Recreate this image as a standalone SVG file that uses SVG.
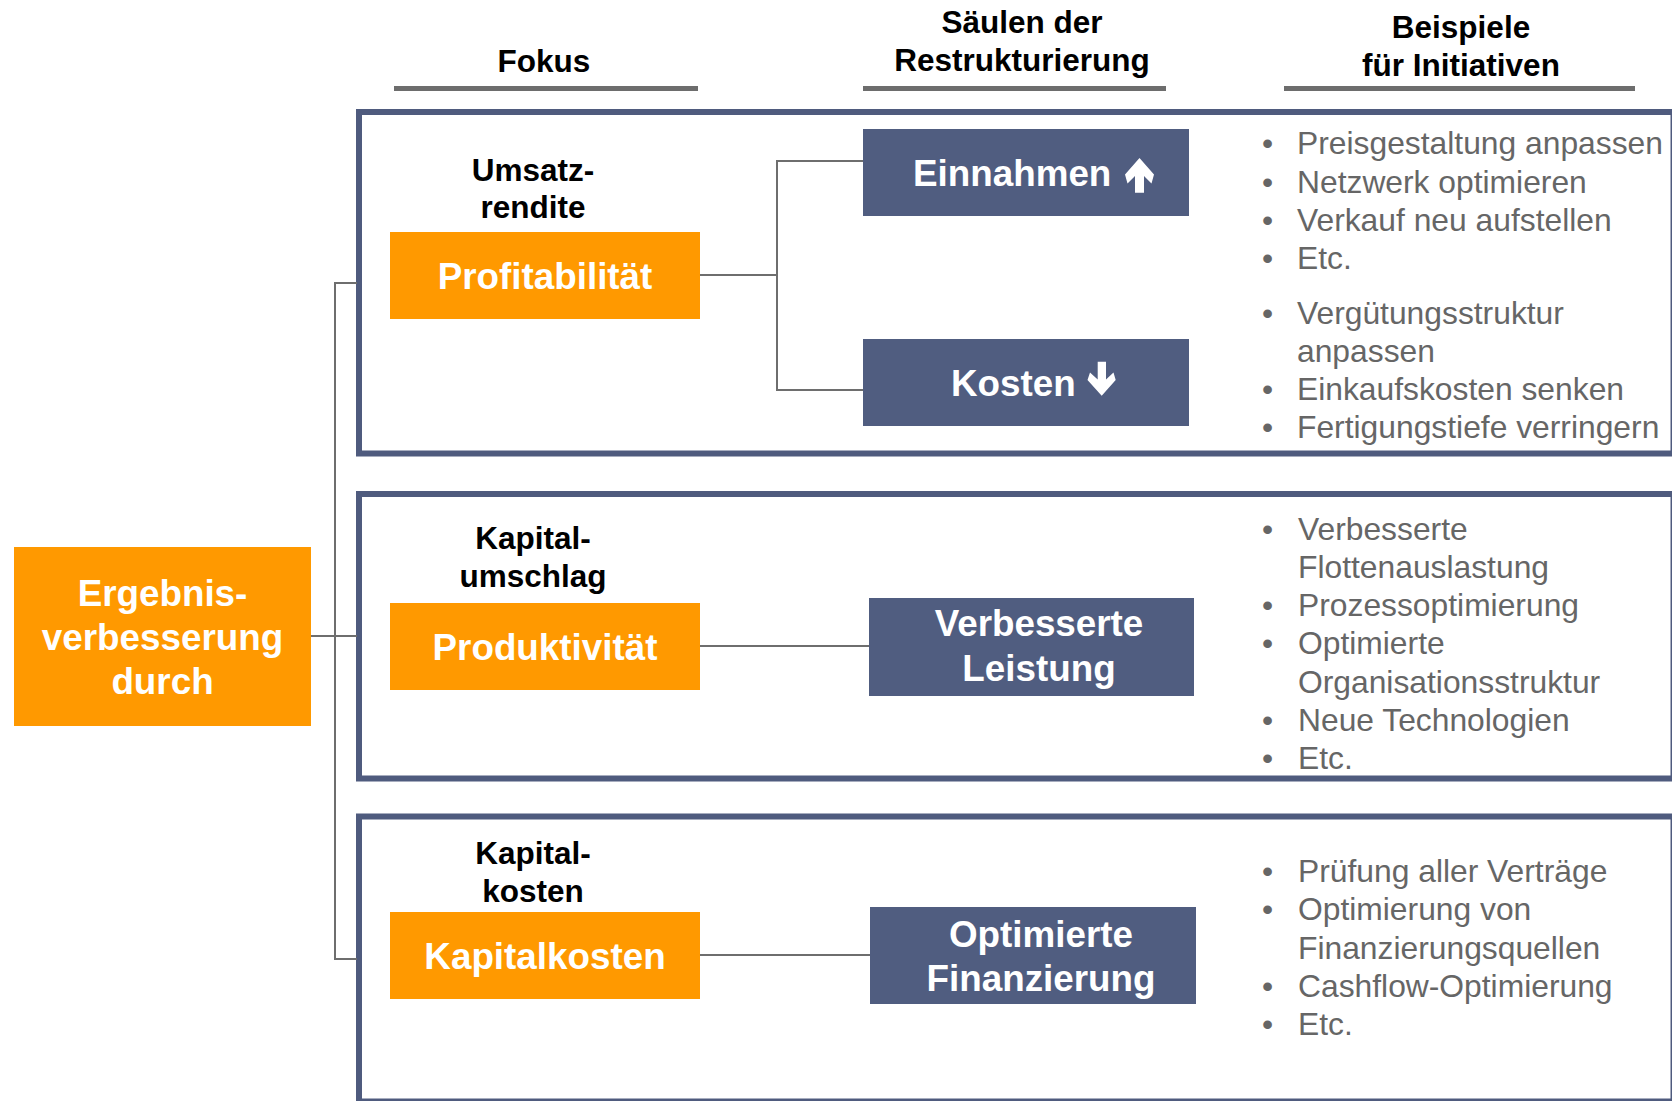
<svg xmlns="http://www.w3.org/2000/svg" width="1672" height="1101" viewBox="0 0 1672 1101">
<style>
text{font-family:"Liberation Sans",Arial,sans-serif}
.hdr{font-size:31.5px;font-weight:bold;fill:#000;text-anchor:middle}
.lbl{font-size:31.5px;font-weight:bold;fill:#000;text-anchor:middle}
.nt{font-size:36.8px;font-weight:bold;fill:#fff;text-anchor:middle}
.nts{font-size:36.8px;font-weight:bold;fill:#fff}
.bl{font-size:31.8px;fill:#666666}
.or{fill:#FF9900}
.bu{fill:#505D80}
.frame{fill:none;stroke:#4F5B7E;stroke-width:6}
.ul{fill:#6D6D6D}
.con{fill:none;stroke:#6E6E6E;stroke-width:2}
</style>
<rect width="1672" height="1101" fill="#fff"/>
<g id="headers">
<rect class="ul" x="394" y="86" width="304" height="5"/>
<rect class="ul" x="863" y="86" width="303" height="5"/>
<rect class="ul" x="1284" y="86" width="351" height="5"/>
<text class="hdr" x="544" y="72">Fokus</text>
<text class="hdr" x="1022" y="33">Säulen der</text>
<text class="hdr" x="1022" y="71">Restrukturierung</text>
<text class="hdr" x="1461" y="38">Beispiele</text>
<text class="hdr" x="1461" y="76">für Initiativen</text>
</g>
<g id="frames">
<rect class="frame" x="359" y="112" width="1314.5" height="341.5"/>
<rect class="frame" x="359" y="494" width="1314.5" height="284.5"/>
<rect class="frame" x="359" y="816.5" width="1314.5" height="285"/>
</g>
<g id="connectors">
<path class="con" d="M311 636H357M357 283H335V959H357"/>
<path class="con" d="M700 275H777M863 161H777V390H863"/>
<path class="con" d="M700 646H869"/>
<path class="con" d="M700 955H870"/>
</g>
<g id="n-ergebnis">
<rect class="or" x="14" y="547" width="297" height="179"/>
<text class="nt" x="162.5" y="606">Ergebnis-</text>
<text class="nt" x="162.5" y="650">verbesserung</text>
<text class="nt" x="162.5" y="694">durch</text>
</g>
<g id="n-profitabilitaet">
<text class="lbl" x="533" y="181">Umsatz-</text>
<text class="lbl" x="533" y="218">rendite</text>
<rect class="or" x="390" y="232" width="310" height="87"/>
<text class="nt" x="545" y="288.5">Profitabilität</text>
</g>
<g id="n-produktivitaet">
<text class="lbl" x="533" y="549">Kapital-</text>
<text class="lbl" x="533" y="587">umschlag</text>
<rect class="or" x="390" y="603" width="310" height="87"/>
<text class="nt" x="545" y="659.5">Produktivität</text>
</g>
<g id="n-kapitalkosten">
<text class="lbl" x="533" y="864">Kapital-</text>
<text class="lbl" x="533" y="902">kosten</text>
<rect class="or" x="390" y="912" width="310" height="87"/>
<text class="nt" x="545" y="968.5">Kapitalkosten</text>
</g>
<g id="n-einnahmen">
<rect class="bu" x="863" y="129" width="326" height="87"/>
<text class="nts" x="913" y="185.5">Einnahmen</text>
<path fill="#fff" d="M1139.5 158L1154 174.5L1151.5 183.5L1144 176V192.7H1135V176L1127.5 183.5L1125 174.5Z"/>
</g>
<g id="n-kosten">
<rect class="bu" x="863" y="339" width="326" height="87"/>
<text class="nts" x="951" y="395.5">Kosten</text>
<path fill="#fff" d="M1101.7 395.7L1115.7 380L1113.5 372.5L1106 379.5V361.7H1097.7V379.5L1090 372.5L1087.5 380Z"/>
</g>
<g id="n-leistung">
<rect class="bu" x="869" y="598" width="325" height="98"/>
<text class="nt" x="1039" y="636">Verbesserte</text>
<text class="nt" x="1039" y="681">Leistung</text>
</g>
<g id="n-finanzierung">
<rect class="bu" x="870" y="907" width="326" height="97"/>
<text class="nt" x="1041" y="947">Optimierte</text>
<text class="nt" x="1041" y="991">Finanzierung</text>
</g>
<g id="bullets-1">
<text class="bl" x="1262" y="154">•</text><text class="bl" x="1297" y="154">Preisgestaltung anpassen</text>
<text class="bl" x="1262" y="192.5">•</text><text class="bl" x="1297" y="192.5">Netzwerk optimieren</text>
<text class="bl" x="1262" y="230.5">•</text><text class="bl" x="1297" y="230.5">Verkauf neu aufstellen</text>
<text class="bl" x="1262" y="268.5">•</text><text class="bl" x="1297" y="268.5">Etc.</text>
<text class="bl" x="1262" y="323.5">•</text><text class="bl" x="1297" y="323.5">Vergütungsstruktur</text>
<text class="bl" x="1297" y="361.5">anpassen</text>
<text class="bl" x="1262" y="399.5">•</text><text class="bl" x="1297" y="399.5">Einkaufskosten senken</text>
<text class="bl" x="1262" y="437.5">•</text><text class="bl" x="1297" y="437.5">Fertigungstiefe verringern</text>
</g>
<g id="bullets-2">
<text class="bl" x="1262" y="539.5">•</text><text class="bl" x="1298" y="539.5">Verbesserte</text>
<text class="bl" x="1298" y="577.8">Flottenauslastung</text>
<text class="bl" x="1262" y="616">•</text><text class="bl" x="1298" y="616">Prozessoptimierung</text>
<text class="bl" x="1262" y="654.3">•</text><text class="bl" x="1298" y="654.3">Optimierte</text>
<text class="bl" x="1298" y="692.6">Organisationsstruktur</text>
<text class="bl" x="1262" y="731">•</text><text class="bl" x="1298" y="731">Neue Technologien</text>
<text class="bl" x="1262" y="769">•</text><text class="bl" x="1298" y="769">Etc.</text>
</g>
<g id="bullets-3">
<text class="bl" x="1262" y="882">•</text><text class="bl" x="1298" y="882">Prüfung aller Verträge</text>
<text class="bl" x="1262" y="920.3">•</text><text class="bl" x="1298" y="920.3">Optimierung von</text>
<text class="bl" x="1298" y="958.6">Finanzierungsquellen</text>
<text class="bl" x="1262" y="996.9">•</text><text class="bl" x="1298" y="996.9">Cashflow-Optimierung</text>
<text class="bl" x="1262" y="1035">•</text><text class="bl" x="1298" y="1035">Etc.</text>
</g>
</svg>
